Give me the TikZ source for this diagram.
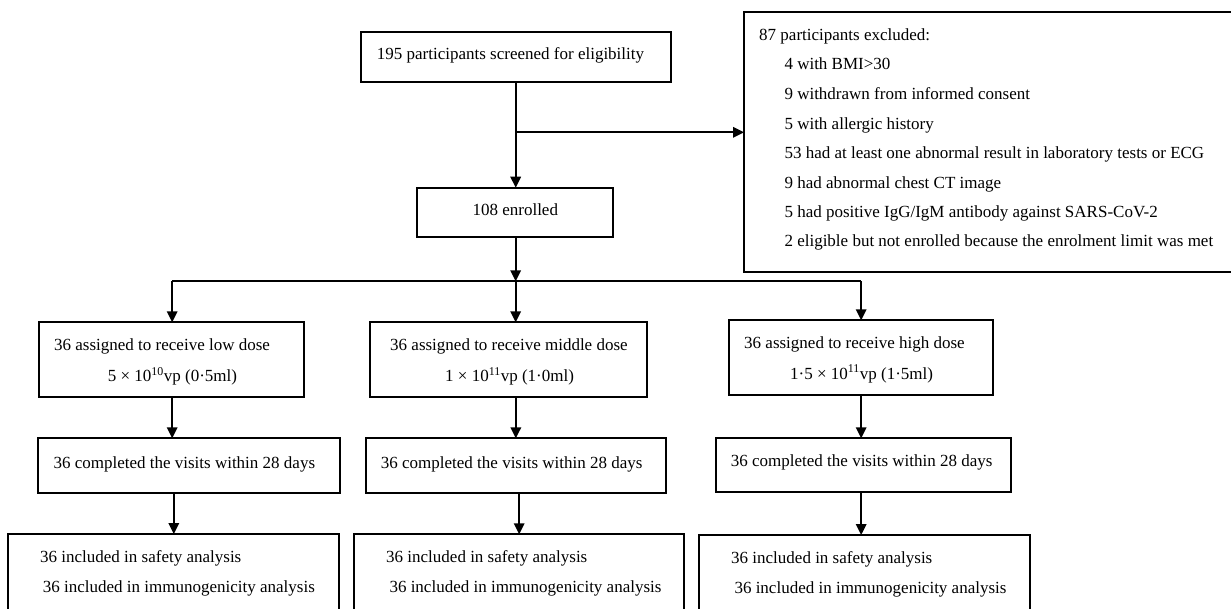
\documentclass[tikz,border=0pt]{standalone}
\usepackage{fontspec}
\setmainfont{Liberation Serif}
\usetikzlibrary{arrows.meta}
\begin{document}
\begin{tikzpicture}[x=1pt,y=-1pt,
  box/.style={draw, line width=1.8pt, inner sep=0pt, outer sep=0pt, rectangle},
  txt/.style={anchor=base west, inner sep=0pt, font=\fontsize{17}{20}\selectfont},
  ctxt/.style={anchor=base, inner sep=0pt, font=\fontsize{17}{20}\selectfont},
  arr/.style={line width=1.8pt, -{Triangle[length=11pt,width=10.5pt]}},
  ln/.style={line width=1.8pt}]
\useasboundingbox (0,0) rectangle (1231,609);
\clip (0,0) rectangle (1231,609);
\fill[white] (0,0) rectangle (1231,609);

% boxes
\node[box, minimum width=310.3pt, minimum height=50.3pt] (screen) at (515.85,56.85) {};
\node[box, minimum width=195.4pt, minimum height=49pt] (enrolled) at (515,212.2) {};
\node[box, minimum width=501pt, minimum height=260pt] (excl) at (994.5,141.7) {};
\node[box, minimum width=265pt, minimum height=74.7pt] (low) at (171.5,359.65) {};
\node[box, minimum width=276.7pt, minimum height=74.7pt] (mid) at (508.35,359.65) {};
\node[box, minimum width=264.3pt, minimum height=74.4pt] (high) at (861.15,357.5) {};
\node[box, minimum width=302.3pt, minimum height=55pt] (compL) at (188.85,465.8) {};
\node[box, minimum width=299.7pt, minimum height=55pt] (compM) at (515.85,465.8) {};
\node[box, minimum width=295pt, minimum height=54pt] (compH) at (863.2,465.3) {};
\node[box, minimum width=331pt, minimum height=90pt] (anaL) at (173.8,579) {};
\node[box, minimum width=330.3pt, minimum height=90pt] (anaM) at (519.15,579.3) {};
\node[box, minimum width=330.7pt, minimum height=90pt] (anaH) at (864.65,580) {};

% texts
\node[txt] (t1) at (376.7,60) {195 participants screened for eligibility};
\node[ctxt] (t2) at (515.3,215.5) {108 enrolled};
\node[txt] (e0) at (759,40.5) {87 participants excluded:};
\node[txt] (e1) at (784.3,69.5) {4 with BMI>30};
\node[txt] (e2) at (784.3,99.3) {9 withdrawn from informed consent};
\node[txt] (e3) at (784.3,129.2) {5 with allergic history};
\node[txt] (e4) at (784.3,159) {53 had at least one abnormal result in laboratory tests or ECG};
\node[txt] (e5) at (784.3,188.3) {9 had abnormal chest CT image};
\node[txt] (e6) at (784.3,217.5) {5 had positive IgG/IgM antibody against SARS-CoV-2};
\node[txt] (e7) at (784.3,246.7) {2 eligible but not enrolled because the enrolment limit was met};

\node[txt] (l1) at (54,350.7) {36 assigned to receive low dose};
\node[txt] (l2) at (107.7,381.8) {5 × 10\textsuperscript{10}vp (0·5ml)};
\node[txt] (m1) at (390,350.7) {36 assigned to receive middle dose};
\node[txt] (m2) at (445,381.8) {1 × 10\textsuperscript{11}vp (1·0ml)};
\node[txt] (h1) at (744,348.3) {36 assigned to receive high dose};
\node[txt] (h2) at (790,379.2) {1·5 × 10\textsuperscript{11}vp (1·5ml)};

\node[txt] (cl) at (53.3,468.3) {36 completed the visits within 28 days};
\node[txt] (cm) at (380.7,468.3) {36 completed the visits within 28 days};
\node[txt] (ch) at (730.7,466.7) {36 completed the visits within 28 days};

\node[txt] (al1) at (40,562.7) {36 included in safety analysis};
\node[txt] (al2) at (42.7,592.7) {36 included in immunogenicity analysis};
\node[txt] (am1) at (386,562.7) {36 included in safety analysis};
\node[txt] (am2) at (389.3,592.7) {36 included in immunogenicity analysis};
\node[txt] (ah1) at (731,563.3) {36 included in safety analysis};
\node[txt] (ah2) at (734.3,593) {36 included in immunogenicity analysis};

% connectors
\coordinate (br) at (515.7,132.3);
\draw[arr] (screen.south -| br) -- (enrolled.north -| br);
\draw[arr] (br) -- (br -| excl.west);
\coordinate (split) at (515.7,281.3);
\coordinate (sL) at (172.2,281.3);
\coordinate (sR) at (861.15,281.3);
\draw[arr] (enrolled.south -| split) -- (split);
\draw[ln] (sL) -- (sR);
\draw[arr] (sL) -- (sL |- low.north);
\draw[arr] (split) -- (split |- mid.north);
\draw[arr] (sR) -- (high.north);
\draw[arr] (low.south -| sL) -- (compL.north -| sL);
\draw[arr] (compL.south -| anaL.north) -- (anaL.north);
\draw[arr] (mid.south -| compM.north) -- (compM.north);
\draw[arr] (compM.south -| anaM.north) -- (anaM.north);
\draw[arr] (high.south) -- (high.south |- compH.north);
\draw[arr] (compH.south -| high.south) -- (anaH.north -| high.south);
\end{tikzpicture}
\end{document}
